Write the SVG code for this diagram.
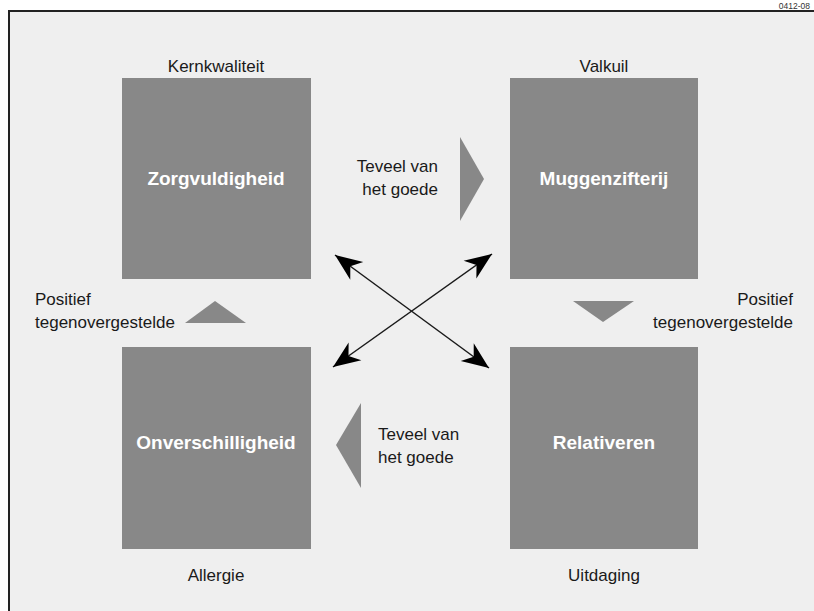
<svg xmlns="http://www.w3.org/2000/svg" width="814" height="611" viewBox="0 0 814 611">
  <style>
    .box { fill: #888888; }
    .tri { fill: #888888; }
    .lbl { font-family: "Liberation Sans", Arial, sans-serif; font-size: 17px; fill: #1a1a1a; }
    .node { font-family: "Liberation Sans", Arial, sans-serif; font-size: 19px; font-weight: bold; fill: #ffffff; text-anchor: middle; }
    .conn { stroke: #1a1a1a; stroke-width: 1.5; fill: none; marker-start: url(#ah); marker-end: url(#ah); }
  </style>
  <defs>
    <marker id="ah" viewBox="-28 -12 30 24" refX="0" refY="0" markerWidth="30" markerHeight="24" markerUnits="userSpaceOnUse" orient="auto-start-reverse">
      <path d="M0,0 L-27,-11 L-19,0 L-27,11 Z" fill="#000000"/>
    </marker>
  </defs>
  <rect x="0" y="0" width="814" height="611" fill="#ffffff"/>
  <rect x="9" y="11" width="820" height="620" fill="#efefef" stroke="#222222" stroke-width="2"/>
  <text x="810" y="8.5" font-family="Liberation Sans, Arial, sans-serif" font-size="8.5" fill="#333333" text-anchor="end">0412-08</text>

  <g id="kernkwaliteit">
    <rect class="box" x="122" y="78" width="189" height="201"/>
    <text class="node" x="216" y="185">Zorgvuldigheid</text>
    <text class="lbl" x="216" y="72" text-anchor="middle">Kernkwaliteit</text>
  </g>
  <g id="valkuil">
    <rect class="box" x="510" y="78" width="188" height="201"/>
    <text class="node" x="604" y="185">Muggenzifterij</text>
    <text class="lbl" x="604" y="72" text-anchor="middle">Valkuil</text>
  </g>
  <g id="allergie">
    <rect class="box" x="122" y="347" width="189" height="202"/>
    <text class="node" x="216" y="449">Onverschilligheid</text>
    <text class="lbl" x="216" y="581" text-anchor="middle">Allergie</text>
  </g>
  <g id="uitdaging">
    <rect class="box" x="510" y="347" width="188" height="202"/>
    <text class="node" x="604" y="449">Relativeren</text>
    <text class="lbl" x="604" y="581" text-anchor="middle">Uitdaging</text>
  </g>

  <g id="connectors">
    <g id="teveel-top">
      <polygon class="tri" points="460,137 484,179 460,221"/>
      <text class="lbl" x="438" y="172" text-anchor="end">Teveel van</text>
      <text class="lbl" x="438" y="195" text-anchor="end">het goede</text>
    </g>
    <g id="teveel-bottom">
      <polygon class="tri" points="361,403 336,445 361,488"/>
      <text class="lbl" x="378" y="440">Teveel van</text>
      <text class="lbl" x="378" y="463">het goede</text>
    </g>
    <g id="positief-left">
      <polygon class="tri" points="185,323 215,301 246,323"/>
      <text class="lbl" x="35" y="305">Positief</text>
      <text class="lbl" x="35" y="328">tegenovergestelde</text>
    </g>
    <g id="positief-right">
      <polygon class="tri" points="573,301 634,301 603,322"/>
      <text class="lbl" x="793" y="305" text-anchor="end">Positief</text>
      <text class="lbl" x="793" y="328" text-anchor="end">tegenovergestelde</text>
    </g>
    <line class="conn" x1="335" y1="255" x2="489" y2="368"/>
    <line class="conn" x1="492" y1="254" x2="333" y2="367"/>
  </g>
</svg>
